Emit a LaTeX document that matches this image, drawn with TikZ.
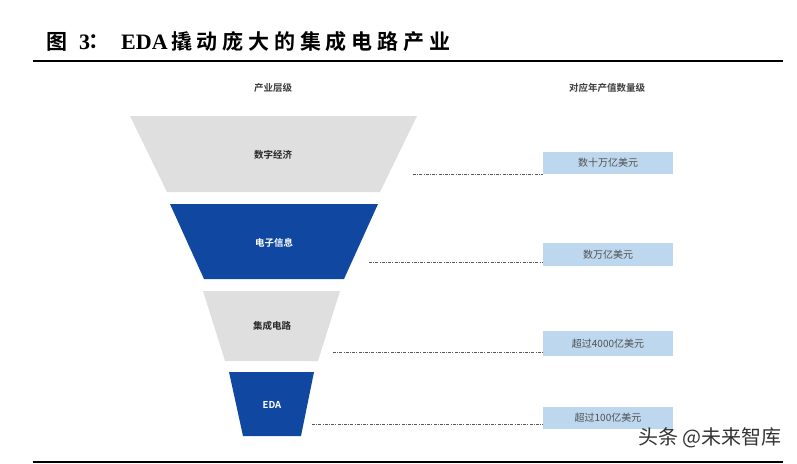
\documentclass[tikz,border=0pt]{standalone}
\usepackage{fontspec}
\newfontfamily\cjk{Noto Sans CJK SC}[BoldFont={Noto Sans CJK SC Bold}]
\newfontfamily\cjkblack{Noto Sans CJK SC Bold}
\newfontfamily\serifb{Liberation Serif}[BoldFont={Liberation Serif Bold}]
\newcommand\tsp{\hspace{4.8pt}}
\definecolor{funnelblue}{RGB}{16,72,161}
\definecolor{funnelgray}{RGB}{223,223,223}
\definecolor{boxblue}{RGB}{189,215,238}
\definecolor{boxtext}{RGB}{80,80,80}
\definecolor{headtext}{RGB}{60,60,60}
\tikzset{
  graytrap/.style={fill=funnelgray,draw=none},
  bluetrap/.style={fill=funnelblue,draw=none},
  darklabel/.style={font=\cjk\bfseries\fontsize{9.5}{11}\selectfont,text=black!85,inner sep=0pt},
  whitelabel/.style={font=\cjk\bfseries\fontsize{9.5}{11}\selectfont,text=white,inner sep=0pt},
  headlabel/.style={font=\cjk\bfseries\fontsize{9.5}{11}\selectfont,text=headtext,inner sep=0pt},
  valbox/.style={fill=boxblue,draw=none,minimum width=130pt,inner sep=0pt,font=\cjk\fontsize{10}{12}\selectfont,text=boxtext},
  dashline/.style={draw=black!65,line width=0.8pt,dash pattern=on 3pt off 1.2pt on 1pt off 1.2pt},
  ruleline/.style={line width=2pt,black},
  titlecjk/.style={font=\cjkblack\fontsize{21}{24}\selectfont,inner sep=0pt,anchor=west},
  titlelat/.style={font=\serifb\bfseries\fontsize{22}{24}\selectfont,inner sep=0pt,anchor=west}
}
\begin{document}
\begin{tikzpicture}[x=1pt,y=-1pt]
\useasboundingbox (0,0) rectangle (797,463);
% title
\node[titlecjk] (t1) at (46,42) {图};
\node[titlelat] (t2) at (79,42) {3};
\node[titlecjk] (t3) at (88,42) {：};
\node[titlelat] (t4) at (121,42) {EDA};
\node[titlecjk] (t5) at (171,42) {撬\tsp 动\tsp 庞\tsp 大\tsp 的\tsp 集\tsp 成\tsp 电\tsp 路\tsp 产\tsp 业};
\draw[ruleline] (33,60.7) -- (783,60.7);
\draw[ruleline] (33,461.5) -- (783,461.5);
% headers
\node[headlabel] (h1) at (273,88) {产业层级};
\node[headlabel] (h2) at (607,88) {对应年产值数量级};
% funnel
\fill[graytrap] (130,116) -- (417,116) -- (380,192) -- (167,192) -- cycle;
\fill[bluetrap] (170,204) -- (378,204) -- (344,279) -- (204,279) -- cycle;
\fill[graytrap] (203,291) -- (340,291) -- (318,361) -- (225,361) -- cycle;
\fill[bluetrap] (229,372) -- (314,372) -- (301,436) -- (243,436) -- cycle;
\node[darklabel] (l1) at (273,155) {数字经济};
\node[whitelabel] (l2) at (274,243) {电子信息};
\node[darklabel] (l3) at (272,326) {集成电路};
\node[whitelabel] (l4) at (272,405) {EDA};
% value boxes
\node[valbox,minimum height=22pt] (b1) at (608,163) {数十万亿美元};
\node[valbox,minimum height=23pt] (b2) at (608,254.5) {数万亿美元};
\node[valbox,minimum height=25pt] (b3) at (608,343.5) {超过4000亿美元};
\node[valbox,minimum height=22pt] (b4) at (608,418) {超过100亿美元};
% dashed connectors
\coordinate (d1) at (413,174);
\coordinate (d2) at (369,262.5);
\coordinate (d3) at (333,352);
\coordinate (d4) at (312,424);
\draw[dashline] (d1) -- (d1 -| b1.west);
\draw[dashline] (d2) -- (d2 -| b2.west);
\draw[dashline] (d3) -- (d3 -| b3.west);
\draw[dashline] (d4) -- (d4 -| b4.west);
% watermark
\node[font=\cjk\fontsize{20}{22}\selectfont,text=black!80,inner sep=0pt,anchor=east] (wm) at (782,438) {头条 @未来智库};
\end{tikzpicture}
\end{document}
